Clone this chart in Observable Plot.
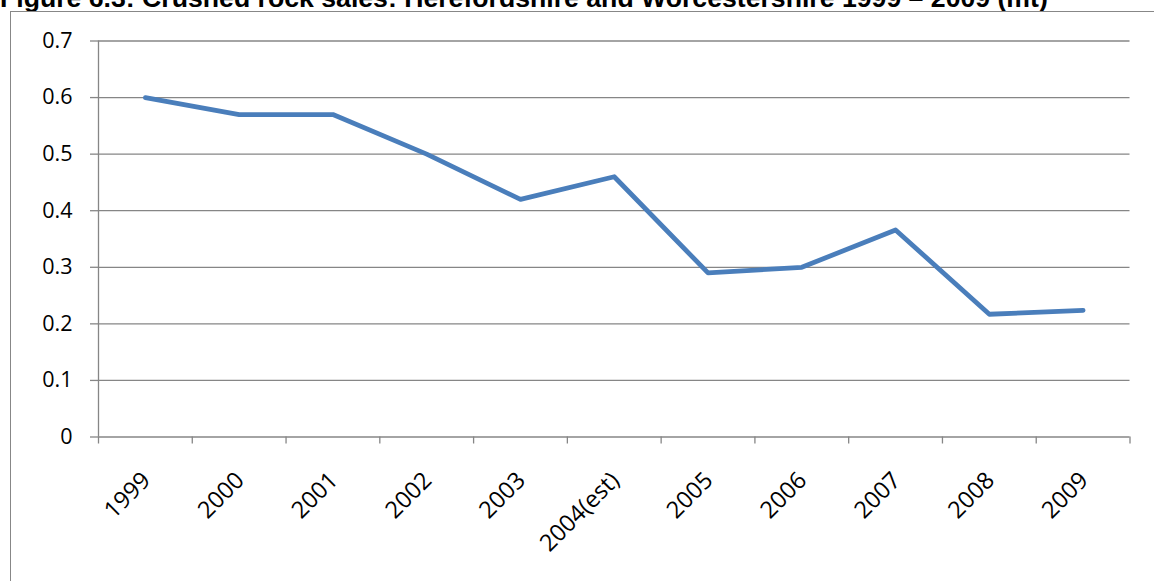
<!DOCTYPE html>
<html>
<head>
<meta charset="utf-8">
<script src="https://cdn.jsdelivr.net/npm/d3@7"></script>
<script src="https://cdn.jsdelivr.net/npm/@observablehq/plot@0.6"></script>
<style>
  html, body { margin: 0; padding: 0; background: #fff; }
  #page { position: relative; width: 1154px; height: 581px; overflow: hidden; }
  #title {
    position: absolute; left: 0; top: -15.4px; white-space: nowrap;
    font: bold 26.65px/26.65px "Liberation Sans", Arial, sans-serif; color: #000;
  }
  #box {
    position: absolute; left: 10px; top: 11px; width: 1300px; height: 700px;
    border-left: 1.5px solid #878787; border-top: 1.5px solid #878787;
  }
  #chart { position: absolute; left: 0; top: 0; }
</style>
</head>
<body>
<div id="page">
  <div id="title">Figure 6.3: Crushed rock sales: Herefordshire and Worcestershire 1999 – 2009 (mt)</div>
  <div id="box"></div>
  <div id="chart"></div>
</div>
<script>
// Crushed rock sales, million tonnes
const years = ["1999", "2000", "2001", "2002", "2003", "2004(est)", "2005", "2006", "2007", "2008", "2009"];
const sales = [0.60, 0.57, 0.57, 0.50, 0.42, 0.46, 0.29, 0.30, 0.366, 0.217, 0.224];
const yTicks = [0, 0.1, 0.2, 0.3, 0.4, 0.5, 0.6, 0.7];

// category boundaries (tick marks sit between categories)
const boundaries = d3.range(years.length + 1).map(k => k - 0.5);
const gridColor = "#868686";

const chart = Plot.plot({
  width: 1154,
  height: 581,
  marginTop: 40.5,
  marginLeft: 98,
  marginRight: 24.5,
  marginBottom: 144.5,
  style: { fontFamily: "'Open Sans', sans-serif", fontSize: "21.5px", color: "#000", background: "transparent", overflow: "visible" },
  x: { type: "linear", domain: [-0.5, years.length - 0.5], axis: null },
  y: { domain: [0, 0.7], axis: null },
  marks: [
    Plot.gridY(yTicks, { stroke: gridColor, strokeOpacity: 1, strokeWidth: 1.3 }),
    Plot.axisY(yTicks, {
      tickSize: 8, tickPadding: 18, stroke: gridColor, strokeWidth: 1.3,
      tickFormat: d => d === 0 ? "0" : d.toFixed(1), fill: "#000", fontSize: 21.5
    }),
    Plot.ruleX([-0.5], { stroke: gridColor, strokeWidth: 1.3 }),
    Plot.axisX(boundaries, { tickSize: 7, stroke: gridColor, strokeWidth: 1.3, tickFormat: () => "" }),
    Plot.line(sales, {
      x: (d, i) => i, y: d => d,
      stroke: "#4A7EBB", strokeWidth: 4.8, strokeLinecap: "round", strokeLinejoin: "round"
    }),
    Plot.text(years, {
      x: (d, i) => i, text: d => d, frameAnchor: "bottom", dy: 39.5, dx: 1,
      rotate: -45, textAnchor: "end", lineAnchor: "middle", fill: "#000", fontSize: 23.5
    })
  ]
});

document.getElementById("chart").appendChild(chart);
</script>
</body>
</html>
